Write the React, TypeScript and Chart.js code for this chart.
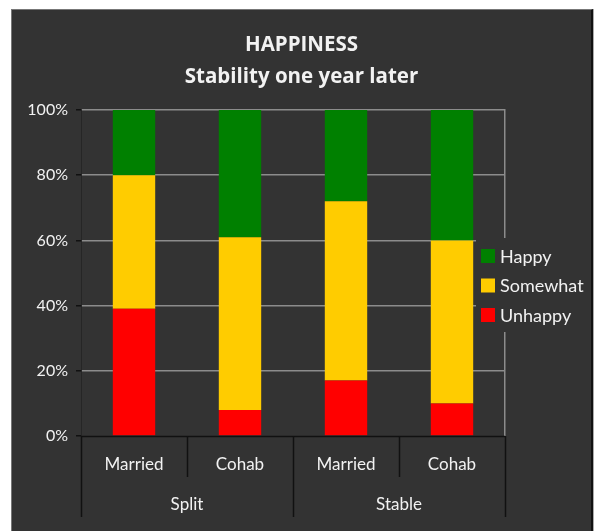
import React, { useEffect, useRef } from "react";
import { Chart, registerables } from "chart.js";

Chart.register(...registerables);

const titleLines = ["HAPPINESS", "Stability one year later"];
const categories = ["Married", "Cohab", "Married", "Cohab"];
const groups = ["Split", "Stable"];
const unhappy = [39, 8, 17, 10];
const somewhat = [41, 53, 55, 50];
const happy = [20, 39, 28, 40];
const yTicks = [0, 20, 40, 60, 80, 100];

const FONT = "Lato, 'Open Sans', sans-serif";
const TITLE_FONT = "'Open Sans', Lato, sans-serif";
const TEXT = "#f2f2f2";
const BG = "#333333";

const CANVAS_W = 579;
const CANVAS_H = 521;

const overlayPlugin = {
  id: "overlay",
  afterDraw(chart: any) {
    const ctx = chart.ctx;
    const area = chart.chartArea;
    const xs = chart.scales.x;
    ctx.save();
    // title
    ctx.fillStyle = TEXT;
    ctx.textAlign = "center";
    ctx.textBaseline = "middle";
    ctx.font = `bold 20.5px ${TITLE_FONT}`;
    const cx = chart.width / 2;
    ctx.fillText(titleLines[0], cx, 35);
    ctx.fillText(titleLines[1], cx, 67);

    // x axis baseline
    ctx.strokeStyle = "#111111";
    ctx.lineWidth = 1.5;
    ctx.beginPath();
    ctx.moveTo(area.left, area.bottom + 0.5);
    ctx.lineTo(area.right, area.bottom + 0.5);
    ctx.stroke();

    // category labels and dividers
    const n = categories.length;
    const catW = (area.right - area.left) / n;
    ctx.font = `17px ${FONT}`;
    ctx.fillStyle = TEXT;
    categories.forEach((c, i) => {
      const x = xs.getPixelForValue(i);
      ctx.fillText(c, x, area.bottom + 29);
    });
    ctx.lineWidth = 1.5;
    for (let i = 0; i <= n; i++) {
      const x = Math.round(xs.getPixelForValue(0) - catW / 2 + i * catW) + 0.5;
      const outer = i % 2 === 0;
      ctx.beginPath();
      ctx.moveTo(x, area.bottom);
      ctx.lineTo(x, area.bottom + (outer ? 81 : 41));
      ctx.stroke();
    }
    groups.forEach((g, gi) => {
      const x = (xs.getPixelForValue(gi * 2) + xs.getPixelForValue(gi * 2 + 1)) / 2;
      ctx.fillText(g, x, area.bottom + 69);
    });

    // legend
    const lx = area.right - 24;
    ctx.fillStyle = BG;
    ctx.fillRect(lx - 5, area.top + 128, 120, 94);
    const items = [...chart.data.datasets].reverse();
    ctx.textAlign = "left";
    ctx.font = `18px ${FONT}`;
    items.forEach((ds: any, i: number) => {
      const cy = area.top + 146 + i * 29.5;
      ctx.fillStyle = ds.backgroundColor;
      ctx.fillRect(lx, cy - 7, 14, 14);
      ctx.fillStyle = TEXT;
      ctx.fillText(ds.label, lx + 19, cy + 1);
    });
    ctx.restore();
  },
};

export default function App() {
  const ref = useRef<HTMLCanvasElement | null>(null);
  useEffect(() => {
    if (!ref.current) return;
    const chart = new Chart(ref.current, {
      type: "bar",
      data: {
        labels: categories,
        datasets: [
          { label: "Unhappy", data: unhappy, backgroundColor: "#ff0000" },
          { label: "Somewhat", data: somewhat, backgroundColor: "#ffcc00" },
          { label: "Happy", data: happy, backgroundColor: "#008000" },
        ],
      },
      options: {
        animation: false,
        responsive: false,
        maintainAspectRatio: false,
        layout: { padding: { top: 100, right: 86, bottom: 95, left: 0 } },
        datasets: { bar: { categoryPercentage: 1, barPercentage: 0.4 } } as any,
        plugins: { legend: { display: false }, title: { display: false }, tooltip: { enabled: false } },
        scales: {
          x: { stacked: true, display: false },
          y: {
            stacked: true,
            min: 0,
            max: 100,
            afterBuildTicks: (s: any) => {
              s.ticks = yTicks.map((v) => ({ value: v }));
            },
            afterFit: (s: any) => {
              s.width = 69;
            },
            ticks: {
              color: TEXT,
              font: { family: FONT, size: 16 },
              padding: 8,
              callback: (v: any) => v + "%",
            },
            grid: {
              color: (c: any) => (c.tick && c.tick.value === 0 ? "rgba(0,0,0,0)" : "#8c8c8c"),
              tickColor: "#111111",
              tickLength: 5,
              lineWidth: 1.5,
            },
            border: { color: "#262626", width: 1 },
          },
          y2: {
            position: "right",
            min: 0,
            max: 100,
            ticks: { display: false },
            grid: { display: false },
            border: { color: "#8c8c8c", width: 1.5 },
            afterFit: (s: any) => {
              s.width = 0;
            },
          },
        },
      },
      plugins: [overlayPlugin],
    });
    return () => chart.destroy();
  }, []);
  return (
    <div
      style={{
        position: "absolute",
        left: 11,
        top: 9,
        width: CANVAS_W,
        height: CANVAS_H + 10,
        background: BG,
        borderTop: "1px solid #777",
        borderLeft: "1px solid #777",
        borderRight: "2px solid #111",
        boxShadow: "1px 0 0 #aaa",
      }}
    >
      <canvas ref={ref} width={CANVAS_W} height={CANVAS_H} style={{ display: "block" }} />
    </div>
  );
}
